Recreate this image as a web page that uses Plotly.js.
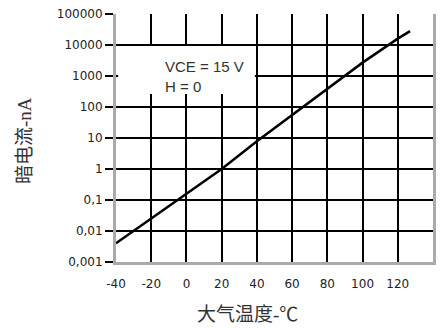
<!DOCTYPE html>
<html>
<head>
<meta charset="utf-8">
<script src="https://cdn.plot.ly/plotly-3.0.1.min.js"></script>
<style>html,body{margin:0;padding:0;background:#fff;}#chart{width:443px;height:328px;}</style>
</head>
<body>
<div id="chart"></div>
<script>
// Data
var temperature = [-40, -20, 0, 20, 40, 60, 80, 100, 120, 127];
var darkCurrent = [0.004, 0.025, 0.16, 1.0, 7.8, 56, 400, 2700, 16000, 28000];
var xTickVals = [-40, -20, 0, 20, 40, 60, 80, 100, 120, 140];
var yTickVals = [0.001, 0.01, 0.1, 1, 10, 100, 1000, 10000, 100000];
var yTickText = ['0,001', '0,01', '0,1', '1', '10', '100', '1000', '10000', '100000'];
var conditionText = 'VCE = 15 V<br>H = 0';
var xTitle = '大气温度-℃';
var yTitle = '暗电流-nA';

var trace = {
  x: temperature,
  y: darkCurrent,
  type: 'scatter',
  mode: 'lines',
  line: {color: '#000', width: 2.5},
  hoverinfo: 'skip'
};

var tickFont = {family: 'DejaVu Sans, sans-serif', size: 12, color: '#222'};
var titleFont = {family: 'Liberation Serif, Noto Sans CJK SC, serif', size: 19, color: '#333'};

var layout = {
  width: 443,
  height: 328,
  margin: {l: 116, r: 10, t: 14, b: 66},
  paper_bgcolor: '#fff',
  plot_bgcolor: '#fff',
  showlegend: false,
  xaxis: {
    range: [-40, 140],
    tickvals: xTickVals,
    ticktext: xTickVals.map(String),
    showgrid: true,
    gridcolor: '#000',
    gridwidth: 2,
    zeroline: false,
    showline: true,
    linecolor: '#aaa',
    linewidth: 3,
    ticks: '',
    ticklabelstandoff: 9,
    tickfont: tickFont,
    fixedrange: true
  },
  yaxis: {
    type: 'log',
    range: [-3, 5],
    tickvals: yTickVals,
    ticktext: yTickText,
    showgrid: true,
    gridcolor: '#000',
    gridwidth: 2,
    zeroline: false,
    showline: true,
    mirror: true,
    linecolor: '#aaa',
    linewidth: 3,
    ticks: 'outside',
    ticklen: 8,
    tickwidth: 2,
    tickcolor: '#000',
    tickfont: tickFont,
    fixedrange: true
  },
  shapes: [{
    type: 'rect',
    xref: 'paper', yref: 'paper',
    x0: 0.007, x1: 0.438, y0: 0.677, y1: 0.871,
    fillcolor: '#fff',
    line: {width: 0},
    layer: 'above'
  }],
  annotations: [
    {
      xref: 'paper', yref: 'paper',
      x: 0.148, y: 0.83,
      xanchor: 'left', yanchor: 'top',
      align: 'left',
      text: conditionText,
      showarrow: false,
      font: {family: 'Liberation Sans, Arial, sans-serif', size: 15, color: '#333'}
    },
    {
      xref: 'paper', yref: 'paper',
      x: (247 - 116) / 317, y: -(314 - 262) / 248,
      xanchor: 'center', yanchor: 'middle',
      text: xTitle,
      showarrow: false,
      font: titleFont
    },
    {
      xref: 'paper', yref: 'paper',
      x: (24 - 116) / 317, y: (262 - 140) / 248,
      xanchor: 'center', yanchor: 'middle',
      text: yTitle,
      textangle: -90,
      showarrow: false,
      font: titleFont
    }
  ]
};

Plotly.newPlot('chart', [trace], layout, {staticPlot: true, displayModeBar: false});
</script>
</body>
</html>
